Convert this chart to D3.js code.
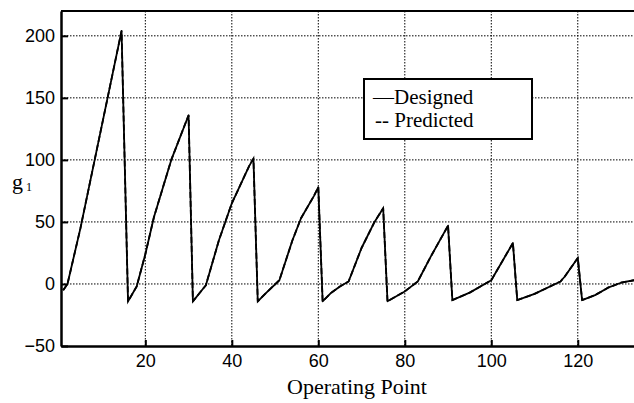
<html>
    <head>
        <meta http-equiv="Content-Type" content="text/html; charset=UTF-8" />
        <script src="https://d3js.org/d3.v7.min.js"></script>
        <style type="text/css">
            body { margin: 0; background: white; }
        </style>
    </head>
    <body>
        <div id="chart"></div>
    </body>
</html>
<script type="text/javascript">

    const width = 634, height = 403;

    // Designed g1 values
    const designedX = [1, 2, 5, 14.5,
                       16, 18, 20, 22, 26, 30,
                       31, 34, 37, 40, 44, 45,
                       46, 48, 51, 54, 56, 59, 60,
                       61, 63, 65, 67, 70, 73, 75,
                       76, 80, 83, 86, 90,
                       91, 95, 100, 105,
                       106, 110, 116, 117, 120,
                       121, 124, 127, 130, 133];
    const designedG = [-5, 0, 45, 204,
                       -14, -2, 24, 54, 100, 136,
                       -14, -1, 35, 65, 95, 101,
                       -14, -7, 3, 35, 53, 71, 78,
                       -14, -7, -2, 2, 29, 50, 61,
                       -14, -6, 2, 22, 47,
                       -13, -7, 3, 33,
                       -13, -8, 2, 6, 21,
                       -13, -9, -3, 1, 3];

    // Predicted lies on top of the designed curve
    const predictedX = designedX.slice();
    const predictedG = [-5, 0, 45, 204,
                        -14, -2, 24, 54, 100, 136,
                        -14, -1, 35, 65, 95, 101,
                        -14, -7, 3, 35, 53, 71, 78,
                        -14, -7, -2, 2, 29, 50, 61,
                        -14, -6, 2, 22, 47,
                        -13, -7, 3, 33,
                        -13, -8, 2, 6, 21,
                        -13, -9, -3, 1, 3];

    const xTicks = [20, 40, 60, 80, 100, 120];
    const yTicks = [-50, 0, 50, 100, 150, 200];
    const legendLabels = ["\u2014Designed", "-- Predicted"];

    const serif = "'Liberation Serif', 'Times New Roman', Times, serif";
    const sans = "'Liberation Sans', Arial, sans-serif";

    const mLeft = 61, mRight = 634, mTop = 11, mBottom = 346;

    const x = d3.scaleLinear().domain([0.5, 133]).range([mLeft, mRight]);
    const y = d3.scaleLinear().domain([-50, 220]).range([mBottom, mTop]);

    const svg = d3.select("#chart").append("svg")
                  .attr("width", width)
                  .attr("height", height);

    // dotted grid
    const grid = svg.append("g");
    grid.selectAll("line.gx")
        .data(xTicks).enter()
        .append("line")
        .attr("x1", d => x(d)).attr("x2", d => x(d))
        .attr("y1", mTop).attr("y2", mBottom)
        .style("stroke", "black")
        .style("stroke-width", "1px")
        .style("stroke-dasharray", "1.5,1.5");
    grid.selectAll("line.gy")
        .data(yTicks.filter(d => d > -50)).enter()
        .append("line")
        .attr("x1", mLeft).attr("x2", mRight)
        .attr("y1", d => y(d)).attr("y2", d => y(d))
        .style("stroke", "black")
        .style("stroke-width", "1px")
        .style("stroke-dasharray", "1.5,1.5");

    // axes with inward ticks
    const xAxis = svg.append("g")
        .attr("transform", "translate(0," + mBottom + ")")
        .call(d3.axisBottom(x).tickValues(xTicks).tickSizeInner(-6).tickSizeOuter(0).tickPadding(8));
    const yAxis = svg.append("g")
        .attr("transform", "translate(" + mLeft + ",0)")
        .call(d3.axisLeft(y).tickValues(yTicks).tickSizeInner(-7).tickSizeOuter(0).tickPadding(6));

    [xAxis, yAxis].forEach(function(a) {
        a.attr("font-family", null).attr("font-size", null);
        a.select(".domain").style("stroke", "black").style("stroke-width", "2.5px");
        a.selectAll(".tick line").style("stroke", "black").style("stroke-width", "2px");
        a.selectAll(".tick text")
         .style("fill", "black")
         .style("font-size", "18px")
         .style("font-family", sans);
    });

    // top border
    svg.append("line")
       .attr("x1", mLeft).attr("x2", mRight)
       .attr("y1", mTop).attr("y2", mTop)
       .style("stroke", "black")
       .style("stroke-width", "2px");

    const line = d3.line()
                   .x(d => x(d[0]))
                   .y(d => y(d[1]));

    svg.append("path")
       .datum(d3.zip(designedX, designedG))
       .attr("d", line)
       .style("fill", "none")
       .style("stroke", "black")
       .style("stroke-width", "1.8px")
       .style("stroke-linejoin", "round");

    svg.append("path")
       .datum(d3.zip(predictedX, predictedG))
       .attr("d", line)
       .style("fill", "none")
       .style("stroke", "black")
       .style("stroke-width", "1.8px")
       .style("stroke-dasharray", "6,3");

    // legend
    const legend = svg.append("g");
    legend.append("rect")
          .attr("x", 364).attr("y", 79)
          .attr("width", 168).attr("height", 60)
          .style("fill", "white")
          .style("stroke", "black")
          .style("stroke-width", "2px");
    legend.selectAll("text")
          .data(legendLabels).enter()
          .append("text")
          .attr("x", (d, i) => i === 0 ? 373 : 375)
          .attr("y", (d, i) => 104 + i * 23)
          .style("font-family", serif)
          .style("font-size", "21px")
          .style("fill", "black")
          .text(d => d);

    // axis titles
    svg.append("text")
       .attr("x", 357).attr("y", 394)
       .attr("text-anchor", "middle")
       .style("font-family", serif)
       .style("font-size", "22px")
       .style("fill", "black")
       .text("Operating Point");

    const gLabel = svg.append("text")
       .attr("x", 12).attr("y", 189)
       .style("font-family", serif)
       .style("font-size", "22px")
       .style("fill", "black");
    gLabel.append("tspan").text("g");
    gLabel.append("tspan").attr("dx", 3).attr("dy", 2).style("font-size", "12px").text("1");

</script>
